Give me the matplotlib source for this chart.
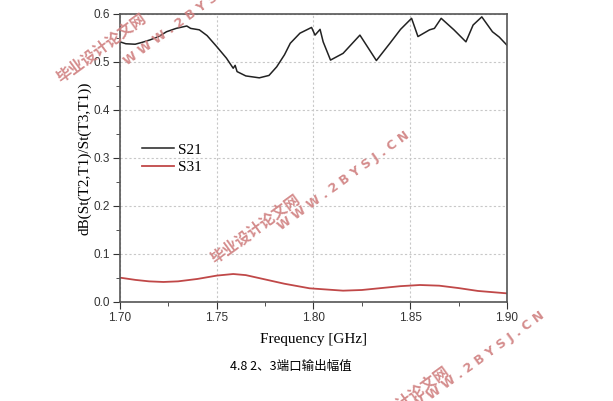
import matplotlib
matplotlib.use('Agg')
import matplotlib.pyplot as plt
from matplotlib.ticker import MultipleLocator

# S21 (black, noisy)
freq_s21 = [1.700, 1.703, 1.7078, 1.7115, 1.7155, 1.720, 1.724, 1.729, 1.7345, 1.7365, 1.741,
            1.745, 1.750, 1.755, 1.7585, 1.7595, 1.7605, 1.765, 1.772, 1.777, 1.781, 1.785,
            1.788, 1.793, 1.799, 1.8008, 1.8034, 1.805, 1.8088, 1.8153,
            1.824, 1.8325, 1.8395, 1.845, 1.8507, 1.854, 1.860, 1.8625, 1.866, 1.8726,
            1.8788, 1.8825, 1.887, 1.8925, 1.896, 1.900]
s21 = [0.542, 0.538, 0.537, 0.541, 0.546, 0.553, 0.563, 0.570, 0.575, 0.570, 0.567,
       0.555, 0.532, 0.508, 0.487, 0.493, 0.480, 0.471, 0.467, 0.472, 0.490, 0.515,
       0.539, 0.560, 0.572, 0.556, 0.568, 0.542, 0.504, 0.518,
       0.556, 0.503, 0.539, 0.568, 0.591, 0.553, 0.567, 0.570, 0.591, 0.567,
       0.542, 0.577, 0.594, 0.563, 0.552, 0.535]

# S31 (red, smooth)
freq_s31 = [1.700, 1.708, 1.715, 1.7224, 1.730, 1.740, 1.750, 1.7585, 1.765, 1.775, 1.785,
            1.798, 1.8153, 1.825, 1.835, 1.845, 1.855, 1.865, 1.875, 1.885, 1.900]
s31 = [0.0507, 0.046, 0.043, 0.0417, 0.043, 0.048, 0.055, 0.0583, 0.056, 0.047, 0.038,
       0.0285, 0.0236, 0.025, 0.029, 0.033, 0.0354, 0.034, 0.029, 0.023, 0.018]

xticks = [1.70, 1.75, 1.80, 1.85, 1.90]
yticks = [0.0, 0.1, 0.2, 0.3, 0.4, 0.5, 0.6]

fig = plt.figure(figsize=(6.13, 4.01), dpi=100)
ax = fig.add_axes([0.1958, 0.2469, 0.6312, 0.7182])

ax.plot(freq_s21, s21, color='#222222', lw=1.1, label='S21')
ax.plot(freq_s31, s31, color='#c04848', lw=1.3, label='S31')

ax.set_xlim(1.70, 1.90)
ax.set_ylim(0.0, 0.6)
ax.set_xticks(xticks)
ax.set_xticklabels([f'{v:.2f}' for v in xticks])
ax.set_yticks(yticks)
ax.set_yticklabels([f'{v:.1f}' for v in yticks])
ax.xaxis.set_minor_locator(MultipleLocator(0.025))
ax.yaxis.set_minor_locator(MultipleLocator(0.05))
ax.tick_params(which='both', direction='out', labelsize=8.5, colors='#333333', pad=2)
ax.tick_params(which='major', length=5)
ax.tick_params(which='minor', length=3)
ax.tick_params(top=False, right=False, which='both')
for lab in ax.get_xticklabels() + ax.get_yticklabels():
    lab.set_family('Liberation Sans')
ax.grid(True, which='major', ls=(0, (2, 2)), color='#c8c8c8', lw=0.8)
for s in ax.spines.values():
    s.set_color('#555555')
    s.set_linewidth(1.2)

ax.set_xlabel('Frequency [GHz]', family='Liberation Serif', fontsize=11, labelpad=7)
ax.set_ylabel('dB(St(T2,T1)/St(T3,T1))', family='Liberation Serif', fontsize=11, labelpad=2)

leg = ax.legend(loc='upper left', bbox_to_anchor=(0.02, 0.6), frameon=False,
                prop={'family': 'Liberation Serif', 'size': 11},
                handlelength=2.1, handletextpad=0.3, labelspacing=0.25)

fig.text(0.475, 0.085, '4.8 2、3端口输出幅值', ha='center', va='center',
         family=['Noto Sans CJK SC', 'DejaVu Sans'], fontsize=9)

# watermarks
wm = '#d08080'
for x, y in [(0.166, 0.88), (0.416, 0.43), (0.66, 0.0)]:
    fig.text(x, y, '毕业设计论文网', rotation=36, color=wm, fontsize=11, fontweight='bold',
             family=['Noto Sans CJK SC', 'DejaVu Sans'], ha='center', va='center', alpha=0.9)
for x, y in [(0.31, 0.96), (0.56, 0.55), (0.78, 0.10)]:
    fig.text(x, y, 'W W W . 2 B Y S J . C N', rotation=36, color=wm, fontsize=9,
             fontweight='bold', ha='center', va='center', alpha=0.9)

fig.savefig('out.png', dpi=100)
